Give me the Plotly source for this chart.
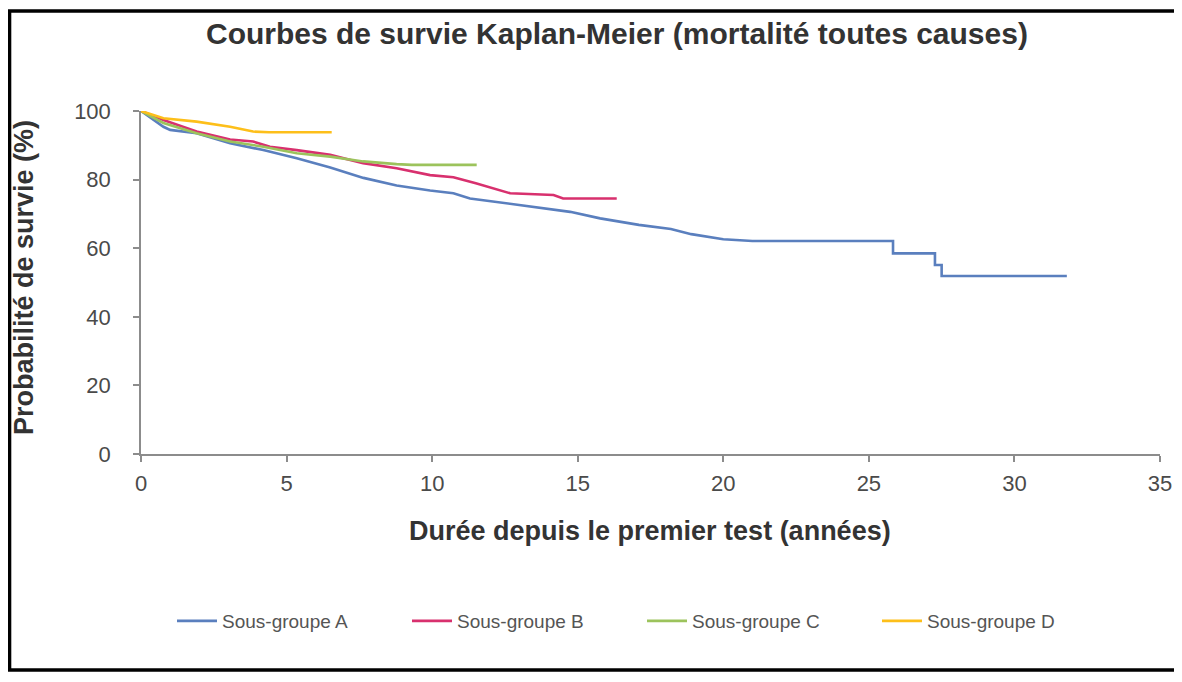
import plotly.graph_objects as go

# ---- data ----
series_names = ["Sous-groupe A", "Sous-groupe B", "Sous-groupe C", "Sous-groupe D"]

a_years = [0, 0.77, 1.0, 1.91, 3.06, 4.2, 5.35, 6.5, 7.64, 8.78, 9.93, 10.73, 11.3, 13.0,
           14.74, 15.77, 17.1, 18.2, 18.9, 20.0, 21.0, 25.83, 25.83, 27.27, 27.27, 27.5, 27.5, 31.8]
a_surv = [100, 95.4, 94.5, 93.5, 90.6, 88.6, 86.2, 83.5, 80.5, 78.3, 76.8, 76.0, 74.5, 72.6,
          70.6, 68.7, 66.8, 65.6, 64.1, 62.6, 62.1, 62.1, 58.5, 58.5, 55.1, 55.1, 51.9, 51.9]

b_years = [0, 0.77, 1.91, 3.06, 3.85, 4.43, 5.35, 6.5, 7.63, 8.78, 9.93, 10.73, 11.5, 11.88,
           12.68, 14.17, 14.5, 16.34]
b_surv = [100, 97.4, 94.0, 91.7, 91.1, 89.6, 88.6, 87.2, 84.8, 83.3, 81.3, 80.7, 78.9, 78.0,
          76.0, 75.5, 74.5, 74.5]

c_years = [0, 0.77, 1.91, 3.06, 4.2, 5.35, 6.5, 7.63, 8.78, 9.3, 11.53]
c_surv = [100, 96.5, 93.5, 91.1, 89.6, 87.7, 86.7, 85.3, 84.5, 84.3, 84.3]

d_years = [0, 0.77, 1.91, 3.06, 3.85, 4.4, 6.55]
d_surv = [100, 97.9, 96.9, 95.4, 94.0, 93.8, 93.8]

x_ticks = [0, 5, 10, 15, 20, 25, 30, 35]
y_ticks = [0, 20, 40, 60, 80, 100]

colors = ["#5A7FBE", "#D8306E", "#9CC35C", "#FDBF1A"]

fig = go.Figure()
for name, xs, ys, col in zip(series_names,
                             [a_years, b_years, c_years, d_years],
                             [a_surv, b_surv, c_surv, d_surv],
                             colors):
    fig.add_trace(go.Scatter(x=xs, y=ys, mode="lines", name=name,
                             line=dict(color=col, width=2.6)))

OFF = 8  # page body margin
W, H = 1166, 664
# desired plot area in screenshot pixels: x 141..1160, y 111..454
L, T = 141 - OFF, 111 - OFF
R = W - (1160 - OFF)
B = H - (454 - OFF)
pw, ph = W - L - R, H - T - B

def px_x(p):
    return (p - OFF - L) / pw

def px_y(p):
    return (H - B - (p - OFF)) / ph

FONT = "Liberation Sans, Arial, sans-serif"
axis_col = "#8C8C8C"
tick_font = dict(family=FONT, size=22, color="#4A4A4A")

frame_path = "M {:.4f},{:.4f} L {:.4f},{:.4f} L {:.4f},{:.4f} L {:.4f},{:.4f}".format(
    px_x(1180), px_y(11), px_x(9.5), px_y(11), px_x(9.5), px_y(670), px_x(1180), px_y(670))

fig.update_layout(
    width=W, height=H,
    margin=dict(l=L, r=R, t=T, b=B, autoexpand=False),
    paper_bgcolor="white", plot_bgcolor="white",
    showlegend=True,
    legend=dict(orientation="h", x=px_x(172), y=px_y(621), xanchor="left", yanchor="middle",
                font=dict(family=FONT, size=19, color="#555555"),
                itemwidth=40, entrywidth=180, entrywidthmode="pixels",
                bgcolor="rgba(0,0,0,0)"),
    xaxis=dict(range=[0, 35], tickvals=x_ticks, showgrid=False, zeroline=False,
               showline=True, linecolor=axis_col, linewidth=1.5, automargin=False,
               ticks="outside", ticklen=6, tickcolor=axis_col, tickwidth=1.5,
               tickfont=tick_font, ticklabelstandoff=3),
    yaxis=dict(range=[0, 100], tickvals=y_ticks, showgrid=False, zeroline=False,
               showline=True, linecolor=axis_col, linewidth=1.5, automargin=False,
               ticks="outside", ticklen=6, tickcolor=axis_col, tickwidth=1.5,
               tickfont=tick_font, ticklabelstandoff=18),
    annotations=[
        dict(text="<b>Courbes de survie Kaplan-Meier (mortalité toutes causes)</b>",
             xref="paper", yref="paper", x=px_x(617), y=px_y(34),
             xanchor="center", yanchor="middle", showarrow=False,
             font=dict(family=FONT, size=30, color="#333333")),
        dict(text="<b>Durée depuis le premier test (années)</b>",
             xref="paper", yref="paper", x=px_x(650), y=px_y(531),
             xanchor="center", yanchor="middle", showarrow=False,
             font=dict(family=FONT, size=27, color="#333333")),
        dict(text="<b>Probabilité de survie (%)</b>",
             xref="paper", yref="paper", x=px_x(24), y=px_y(278),
             xanchor="center", yanchor="middle", showarrow=False, textangle=-90,
             font=dict(family=FONT, size=27, color="#333333")),
    ],
    shapes=[
        dict(type="path", xref="paper", yref="paper", path=frame_path,
             fillcolor="rgba(0,0,0,0)", line=dict(color="black", width=3.5)),
    ],
)

fig.write_html("out.html")
